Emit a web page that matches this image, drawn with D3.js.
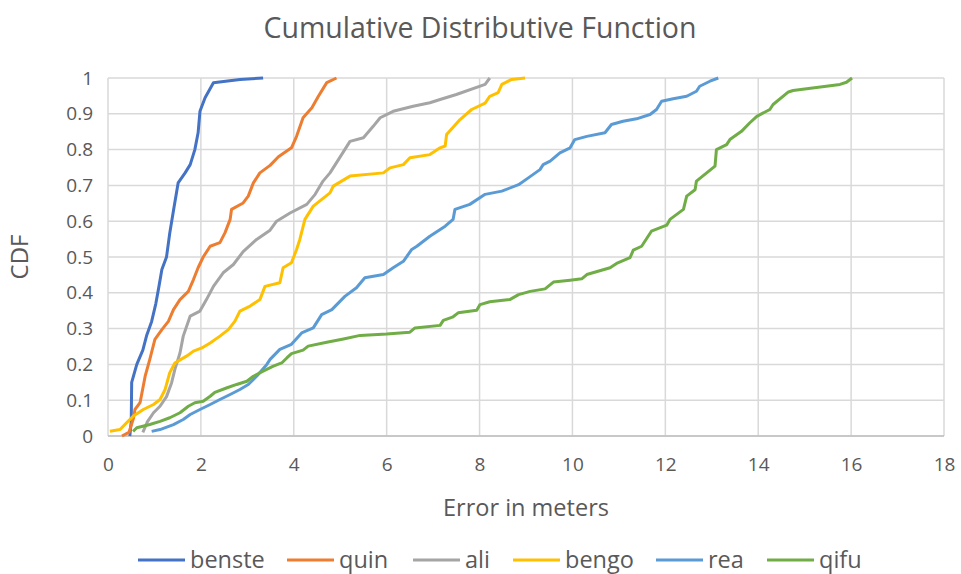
<!DOCTYPE html>
<html>
<head>
<meta charset="utf-8">
<script src="https://d3js.org/d3.v7.min.js"></script>
<style>
  body { margin: 0; background: #fff; }
  text { font-family: "Open Sans", sans-serif; fill: #595959; }
  .grid line { stroke: #d9d9d9; stroke-width: 1.5; }
  .domain { stroke: none; }
  .tick line { stroke: none; }
</style>
</head>
<body>
<div id="chartHere"></div>
<script>
// series names and colours (Excel default palette)
var seriesNames = ['benste', 'quin', 'ali', 'bengo', 'rea', 'qifu'];
var seriesColors = ['#4472C4', '#ED7D31', '#A5A5A5', '#FFC000', '#5B9BD5', '#70AD47'];

var xTicks = [0, 2, 4, 6, 8, 10, 12, 14, 16, 18];
var yTicks = [0, 0.1, 0.2, 0.3, 0.4, 0.5, 0.6, 0.7, 0.8, 0.9, 1];

// [error in meters, cdf]
var benste = [[0.47,0],[0.5,0.04],[0.51,0.15],[0.62,0.2],[0.75,0.24],[0.83,0.28],[0.94,0.32],[1.03,0.37],[1.1,0.42],
  [1.16,0.465],[1.26,0.5],[1.33,0.567],[1.41,0.63],[1.51,0.707],[1.66,0.735],[1.77,0.758],[1.87,0.8],[1.94,0.847],
  [1.98,0.907],[2.09,0.945],[2.27,0.987],[2.84,0.996],[3.34,1.0]];

var quin = [[0.3,0],[0.45,0.01],[0.55,0.05],[0.58,0.074],[0.69,0.093],[0.8,0.167],[0.9,0.214],[1.01,0.27],[1.16,0.297],
  [1.3,0.32],[1.41,0.353],[1.55,0.381],[1.73,0.404],[1.84,0.437],[1.94,0.47],[2.05,0.5],[2.2,0.53],[2.41,0.54],
  [2.52,0.568],[2.63,0.605],[2.66,0.633],[2.91,0.651],[3.02,0.67],[3.13,0.707],[3.27,0.735],[3.49,0.756],[3.67,0.78],
  [3.95,0.805],[4.06,0.837],[4.2,0.889],[4.39,0.917],[4.53,0.949],[4.71,0.987],[4.92,1.0]];

var ali = [[0.75,0.01],[0.85,0.04],[0.98,0.065],[1.12,0.083],[1.26,0.11],[1.37,0.149],[1.44,0.186],[1.55,0.232],
  [1.62,0.279],[1.77,0.335],[1.98,0.349],[2.12,0.381],[2.27,0.418],[2.48,0.456],[2.7,0.479],[2.91,0.515],[3.2,0.549],
  [3.49,0.575],[3.63,0.6],[3.92,0.623],[4.28,0.647],[4.46,0.675],[4.63,0.712],[4.78,0.735],[5.03,0.786],[5.21,0.823],
  [5.5,0.833],[5.71,0.865],[5.86,0.889],[6.14,0.907],[6.57,0.921],[6.93,0.931],[7.15,0.94],[7.5,0.954],[8.12,0.982],
  [8.22,1.0]];

var bengo = [[0.04,0.013],[0.26,0.018],[0.4,0.037],[0.54,0.055],[0.76,0.074],[0.98,0.088],[1.12,0.102],[1.23,0.13],
  [1.33,0.177],[1.44,0.204],[1.69,0.223],[1.84,0.237],[2.02,0.246],[2.2,0.26],[2.41,0.279],[2.59,0.297],[2.73,0.32],
  [2.84,0.349],[3.06,0.363],[3.27,0.381],[3.38,0.418],[3.7,0.428],[3.77,0.47],[3.95,0.484],[4.06,0.521],[4.13,0.549],
  [4.24,0.605],[4.42,0.642],[4.78,0.679],[4.85,0.698],[5.21,0.726],[5.93,0.735],[6.07,0.749],[6.36,0.758],[6.5,0.777],
  [6.93,0.786],[7.15,0.805],[7.26,0.81],[7.29,0.842],[7.58,0.884],[7.83,0.912],[8.12,0.93],[8.22,0.949],[8.4,0.959],
  [8.48,0.982],[8.69,0.996],[8.98,1.0]];

var rea = [[0.94,0.013],[1.12,0.018],[1.41,0.032],[1.62,0.046],[1.77,0.06],[1.98,0.074],[2.2,0.088],[2.41,0.102],
  [2.63,0.116],[2.84,0.13],[3.02,0.144],[3.2,0.167],[3.42,0.2],[3.49,0.214],[3.7,0.242],[3.95,0.256],[4.17,0.288],
  [4.42,0.302],[4.6,0.339],[4.82,0.353],[5.1,0.39],[5.35,0.414],[5.53,0.442],[5.93,0.451],[6.14,0.47],[6.36,0.488],
  [6.54,0.521],[6.65,0.53],[6.93,0.558],[7.26,0.586],[7.43,0.605],[7.47,0.633],[7.79,0.647],[8.12,0.675],[8.48,0.684],
  [8.84,0.702],[9.05,0.721],[9.3,0.744],[9.37,0.758],[9.52,0.768],[9.73,0.791],[9.95,0.805],[10.05,0.828],[10.31,0.837],
  [10.7,0.847],[10.84,0.87],[11.09,0.879],[11.38,0.886],[11.67,0.898],[11.81,0.912],[11.92,0.935],[12.17,0.942],
  [12.46,0.949],[12.67,0.963],[12.74,0.977],[12.96,0.991],[13.14,1.0]];

var qifu = [[0.54,0.013],[0.62,0.023],[0.9,0.032],[1.12,0.041],[1.33,0.051],[1.55,0.065],[1.73,0.083],[1.87,0.093],
  [2.05,0.097],[2.2,0.111],[2.3,0.122],[2.55,0.134],[2.77,0.144],[2.99,0.153],[3.13,0.167],[3.34,0.181],[3.56,0.195],
  [3.74,0.204],[3.85,0.218],[3.95,0.23],[4.2,0.24],[4.31,0.251],[4.71,0.262],[5.07,0.271],[5.43,0.281],[6.0,0.285],
  [6.5,0.29],[6.61,0.302],[7.15,0.309],[7.22,0.323],[7.43,0.333],[7.54,0.344],[7.94,0.351],[8.01,0.367],[8.22,0.375],
  [8.65,0.381],[8.84,0.395],[9.09,0.404],[9.41,0.411],[9.59,0.43],[9.95,0.435],[10.2,0.439],[10.31,0.451],[10.81,0.47],
  [10.95,0.482],[11.24,0.498],[11.31,0.519],[11.49,0.53],[11.7,0.572],[12.03,0.589],[12.1,0.605],[12.39,0.633],
  [12.46,0.67],[12.64,0.688],[12.67,0.712],[13.07,0.754],[13.1,0.8],[13.32,0.814],[13.39,0.828],[13.64,0.851],
  [13.82,0.875],[13.97,0.893],[14.25,0.912],[14.32,0.926],[14.65,0.961],[14.75,0.965],[15.76,0.982],[15.9,0.988],
  [16.02,1.0]];

var seriesData = [benste, quin, ali, bengo, rea, qifu];

var dims = { width: 961, height: 574 };
var margin = { top: 78, right: 17, bottom: 138, left: 108 };

var svg = d3.select('#chartHere').append('svg')
  .attr('width', dims.width)
  .attr('height', dims.height);

var xScale = d3.scaleLinear().domain([0, 18]).range([margin.left, dims.width - margin.right]);
var yScale = d3.scaleLinear().domain([0, 1]).range([dims.height - margin.bottom, margin.top]);

// gridlines
var grid = svg.append('g').attr('class', 'grid');
grid.selectAll('line.h').data(yTicks).enter().append('line')
  .attr('class', 'h')
  .attr('x1', xScale(0)).attr('x2', xScale(18))
  .attr('y1', function (d) { return yScale(d); })
  .attr('y2', function (d) { return yScale(d); });
grid.selectAll('line.v').data(xTicks).enter().append('line')
  .attr('class', 'v')
  .attr('y1', yScale(0)).attr('y2', yScale(1))
  .attr('x1', function (d) { return xScale(d); })
  .attr('x2', function (d) { return xScale(d); });

// axis line at bottom
svg.append('line')
  .attr('x1', xScale(0)).attr('x2', xScale(18))
  .attr('y1', yScale(0)).attr('y2', yScale(0))
  .attr('stroke', '#bfbfbf').attr('stroke-width', 1.5);

// tick labels
svg.append('g')
  .attr('transform', 'translate(0,' + yScale(0) + ')')
  .call(d3.axisBottom(xScale).tickValues(xTicks).tickSize(0).tickPadding(22).tickFormat(d3.format('d')))
  .selectAll('text').style('font-size', '19px').attr('fill', '#595959');

svg.append('g')
  .attr('transform', 'translate(' + xScale(0) + ',0)')
  .call(d3.axisLeft(yScale).tickValues(yTicks).tickSize(0).tickPadding(15).tickFormat(function (d) { return d3.format('')(+d.toFixed(1)); }))
  .selectAll('text').style('font-size', '19px').attr('fill', '#595959');

// lines
var line = d3.line()
  .x(function (d) { return xScale(d[0]); })
  .y(function (d) { return yScale(d[1]); });

svg.selectAll('path.series').data(seriesData).enter().append('path')
  .attr('class', 'series')
  .attr('d', line)
  .attr('fill', 'none')
  .attr('stroke', function (d, i) { return seriesColors[i]; })
  .attr('stroke-width', 3)
  .attr('stroke-linejoin', 'round');

// titles
svg.append('text')
  .text('Cumulative Distributive Function')
  .attr('x', 480).attr('y', 38)
  .attr('text-anchor', 'middle')
  .style('font-size', '28.5px');

svg.append('text')
  .text('Error in meters')
  .attr('x', 526).attr('y', 516)
  .attr('text-anchor', 'middle')
  .style('font-size', '23.5px');

svg.append('text')
  .text('CDF')
  .attr('transform', 'translate(28,257) rotate(-90)')
  .attr('text-anchor', 'middle')
  .style('font-size', '24px');

// legend
var legendX = [138, 287, 413, 513, 656, 767];
var legend = svg.selectAll('g.legend').data(seriesNames).enter().append('g')
  .attr('class', 'legend')
  .attr('transform', function (d, i) { return 'translate(' + legendX[i] + ',560)'; });
legend.append('line')
  .attr('x1', 0).attr('x2', 47).attr('y1', 0).attr('y2', 0)
  .attr('stroke', function (d, i) { return seriesColors[i]; })
  .attr('stroke-width', 3);
legend.append('text')
  .text(function (d) { return d; })
  .attr('x', 52).attr('y', 8)
  .style('font-size', '23.5px');
</script>
</body>
</html>
